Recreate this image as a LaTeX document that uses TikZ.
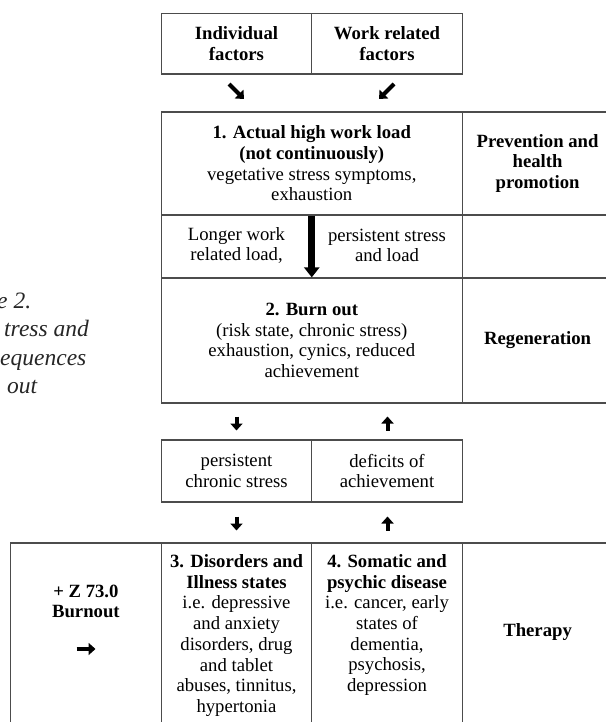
\documentclass[tikz,border=0pt]{standalone}
\usepackage{fontspec}
\setmainfont{Liberation Serif}
\usetikzlibrary{arrows.meta,positioning}
\newcommand{\cellfont}{\fontsize{18.7pt}{20.7pt}\selectfont}
\newcommand{\capfont}{\fontsize{23.5pt}{28.5pt}\selectfont\itshape}

\begin{document}
\begin{tikzpicture}[x=1pt, y=-1pt,
    every node/.style={font=\cellfont, align=center, inner sep=0pt},
    cell/.style={draw=black!70, line width=1.2pt, minimum width=150.5pt},
    wide/.style={cell, minimum width=301pt},
    tip/.style={line width=4pt, -{Triangle[length=7pt, width=12pt]}},
    bigtip/.style={line width=7pt, -{Triangle[length=10pt, width=15pt]}},
    caption/.style={font=\capfont, text=black!85, anchor=base west}]
    \useasboundingbox (0,0) rectangle (605,722);

    % caption, cut by the page edge
    \node[caption] (cap1) at (-3,308) {e 2.};
    \node[caption] (cap2) at (4,336.5) {tress and};
    \node[caption] (cap3) at (0,365) {equences};
    \node[caption] (cap4) at (7,393.5) {out};

    % factors
    \node[cell, minimum height=60.5pt] (indiv) at (236.5,43.7) {\bfseries Individual\\\bfseries factors};
    \node[cell, minimum height=60.5pt] (workrel) at (387,43.7) {\bfseries Work related\\\bfseries factors};

    % stage 1
    \node[wide, minimum height=103pt] (load) at (311.75,163.5) {\bfseries 1. Actual high work load\\\bfseries (not continuously)\\vegetative stress symptoms,\\exhaustion};
    \node[cell, minimum height=103pt] (prev) at (537.6,163.5) {\bfseries Prevention and\\\bfseries health\\\bfseries promotion};

    % transition
    \node[wide, minimum height=63pt] (mid) at (311.75,246.5) {};
    \node (longer) at (236.5,245.5) {Longer work\\related load,};
    \node (persist) at (387,245.5) {persistent stress\\and load};
    \node[cell, minimum height=63pt] (gap) at (537.6,246.5) {};

    % stage 2
    \node[wide, minimum height=125pt] (burn) at (311.75,340.5) {\bfseries 2. Burn out\\(risk state, chronic stress)\\exhaustion, cynics, reduced\\achievement};
    \node[cell, minimum height=125pt] (regen) at (537.6,340.5) {\bfseries Regeneration};
    \draw[bigtip] (load.south) -- (burn.north);

    % chronic stress
    \node[cell, minimum height=62pt] (chron) at (236.5,471) {persistent\\chronic stress};
    \node[cell, minimum height=62pt] (defic) at (387,471) {deficits of\\achievement};

    % stages 3 and 4
    \node[cell, minimum height=187pt] (icd) at (85.9,636.5) {};
    \node[cell, minimum height=187pt] (dis) at (236.5,636.5) {};
    \node[cell, minimum height=187pt] (som) at (387,636.5) {};
    \node[cell, minimum height=187pt] (ther) at (537.6,636.5) {};
    \node (icdtext) at (85.9,601.5) {\bfseries + Z 73.0\\\bfseries Burnout};
    \node (distext) at (236.5,635.5) {\bfseries 3. Disorders and\\\bfseries Illness states\\i.e. depressive\\and anxiety\\disorders, drug\\and tablet\\abuses, tinnitus,\\hypertonia};
    \node (somtext) at (387,625) {\bfseries 4. Somatic and\\\bfseries psychic disease\\i.e. cancer, early\\states of\\dementia,\\psychosis,\\depression};
    \node (thertext) at (537.6,632) {\bfseries Therapy};

    % small arrows
    \coordinate (f1) at (229,84);
    \coordinate (f1e) at (244,99);
    \coordinate (f2) at (394,84);
    \coordinate (f2e) at (379,99);
    \draw[tip] (f1) -- (f1e);
    \draw[tip] (f2) -- (f2e);
    \foreach \r/\y in {1/416.5, 2/516.5} {
        \coordinate (dn\r) at (236.5,\y);
        \coordinate (dn\r e) at (236.5,{\y+14});
        \draw[tip] (dn\r) -- (dn\r e);
        \coordinate (up\r) at (387.5,{\y+14});
        \coordinate (up\r e) at (387.5,\y);
        \draw[tip] (up\r) -- (up\r e);
    }
    \coordinate (go) at (76.5,649);
    \coordinate (goe) at (95.5,649);
    \draw[tip] (go) -- (goe);
\end{tikzpicture}
\end{document}
